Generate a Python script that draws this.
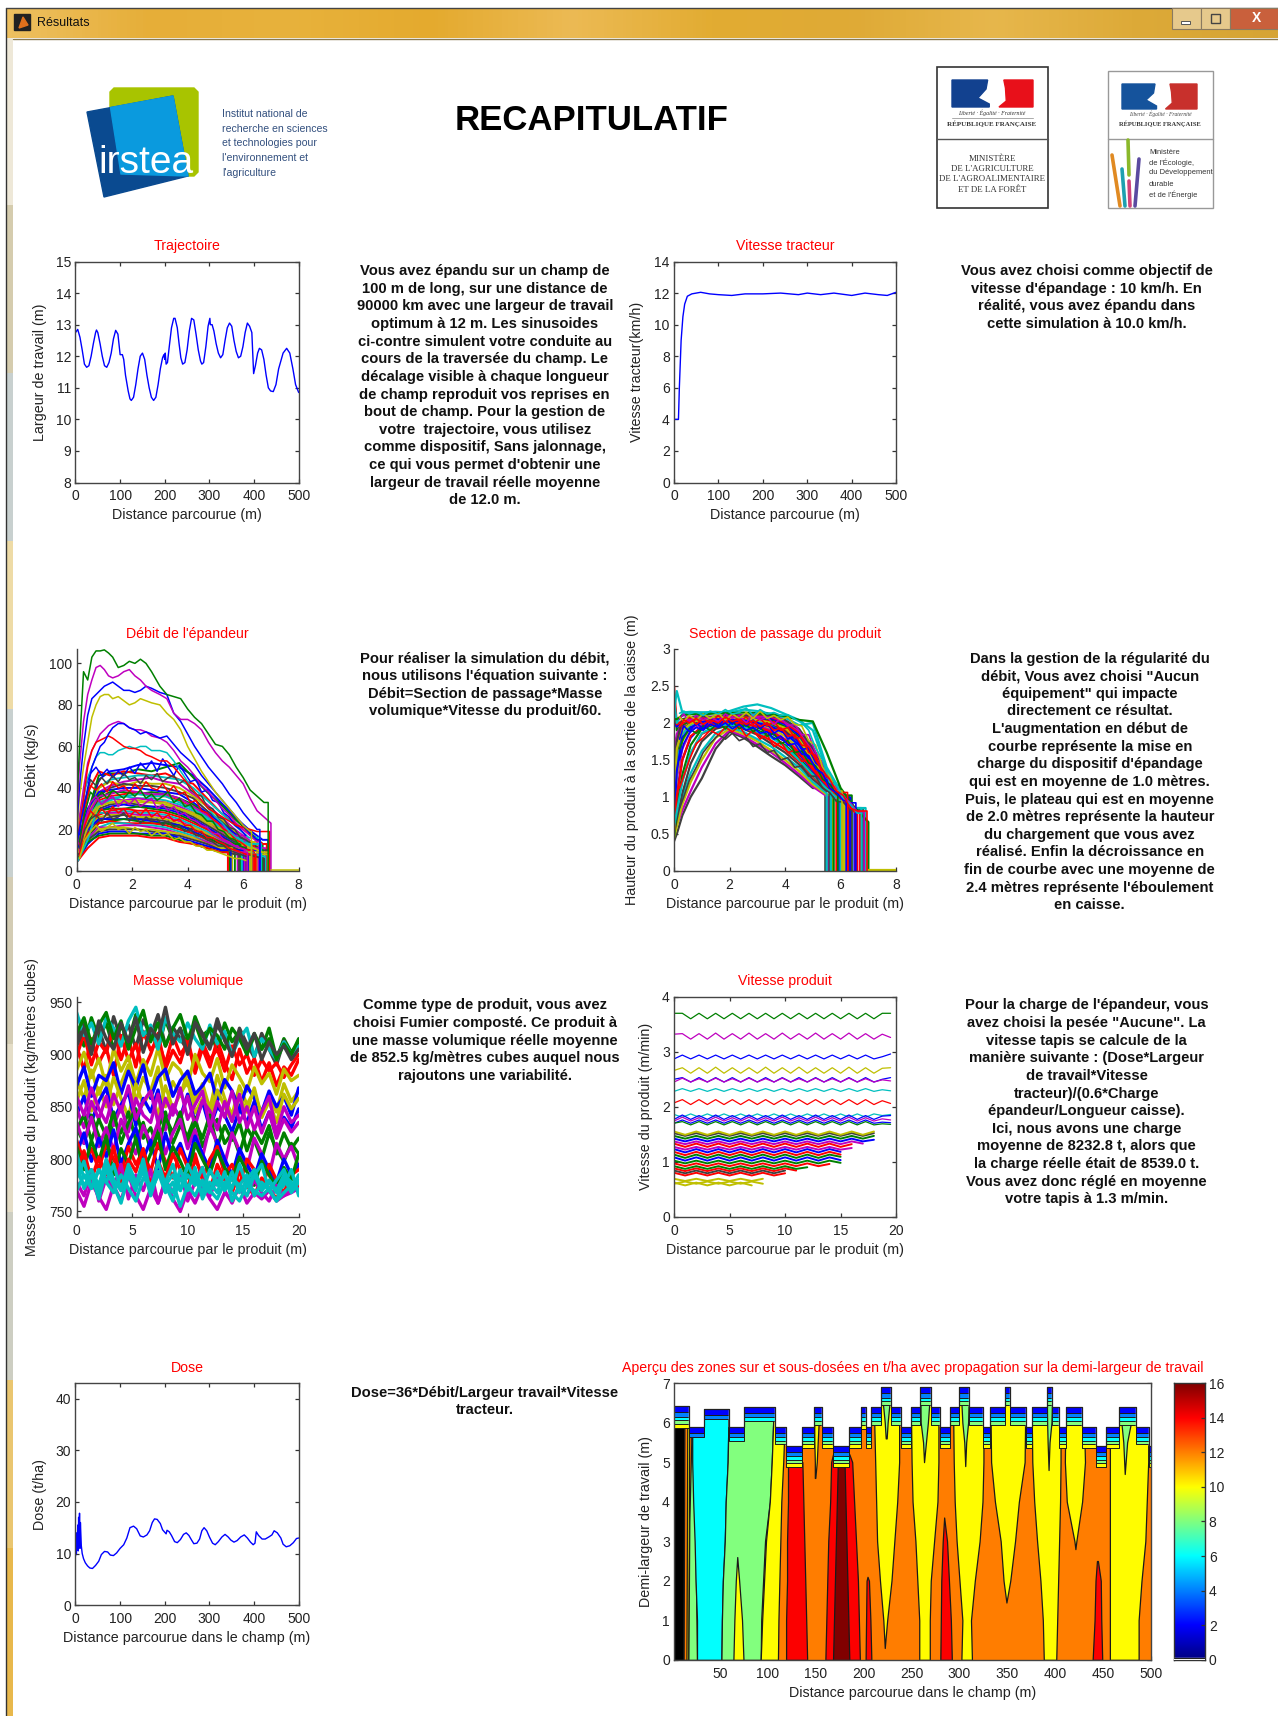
import numpy as np, pandas as pd, matplotlib
matplotlib.use('Agg')
import matplotlib.pyplot as plt, seaborn as sns
from matplotlib.colors import LinearSegmentedColormap
from matplotlib.patches import Polygon, Rectangle

sns.set_theme(style='white')
plt.rcParams['font.family'] = ['Liberation Sans', 'DejaVu Sans']

BLUE,GREEN,RED,CYAN,MAG,YEL,GRAY = '#0000ff','#008000','#ff0000','#00bfbf','#bf00bf','#bfbf00','#404040'
CYCLE = [BLUE,GREEN,RED,CYAN,MAG,YEL,GRAY]

traj_x = [0,5,10,15,20,25,30,35,40,45,47,50,55,60,65,70,75,80,85,90,95,100,105,108,112,118,122,125,130,135,140,145,150,155,160,165,170,175,180,185,190,195,198,200,201,203,206,210,215,220,223,228,232,236,240,245,250,255,260,265,270,275,280,283,287,292,297,301,302,306,310,315,320,325,330,335,340,345,350,355,360,365,370,375,380,385,390,395,399,403,408,412,417,422,427,432,437,443,449,455,465,473,480,487,493,500]
traj_y = [12.75,12.85,12.6,12.2,11.75,11.65,11.7,12.0,12.4,12.75,12.83,12.75,12.4,12.0,11.7,11.65,11.8,12.1,12.55,12.82,12.7,12.05,12.05,11.9,11.4,10.9,10.65,10.6,10.7,11.1,11.6,12.0,12.1,11.9,11.4,11.0,10.7,10.6,10.7,11.1,11.6,11.95,12.05,11.9,12.1,11.75,11.8,12.3,12.9,13.2,13.2,12.9,12.4,11.95,11.75,11.8,12.2,12.8,13.2,13.15,12.7,12.2,11.85,11.75,11.8,12.3,12.95,13.2,13.0,13.0,12.8,12.4,12.1,11.95,12.05,12.5,12.9,13.05,12.95,12.5,12.15,11.95,12.0,12.3,12.75,13.05,12.95,12.75,11.45,11.7,12.1,12.25,12.2,11.9,11.4,11.0,10.9,10.88,11.1,11.6,12.1,12.25,12.1,11.6,11.1,10.85]

trac_x = [0,10,12,16,20,24,30,40,60,80,100,130,160,200,240,280,300,330,360,400,430,460,480,500]
trac_y = [4,4,6,9,10.5,11.3,11.8,11.95,12.05,11.95,11.9,11.85,11.95,11.95,12,11.9,12,11.9,12,11.85,12,11.9,11.85,12.05]

dose_x = [0,1,2,3,4,5,6,7,8,9,10,11,13,15,18,22,27,32,38,45,52,58,65,72,78,85,92,100,108,115,122,130,137,145,152,160,166,172,177,183,190,195,203,205,210,215,222,228,235,242,248,254,260,265,272,278,283,288,294,300,307,313,320,328,335,342,348,355,362,370,378,385,392,398,402,405,410,418,425,433,440,445,452,460,465,472,480,488,495,500]
dose_y = [9.5,13,10,14,11,15.5,10.5,17,12,17.8,11,16,11.5,10,9,8.2,7.6,7.2,7.1,7.7,8.5,9.8,10.4,10.3,9.7,9.6,10.1,11,11.7,13,15,15.3,14.8,13.4,13.2,13.6,14.4,16,16.7,16.6,15.8,14.6,13.8,14.5,14.2,13.5,12.3,12.1,12.7,13.7,14,13.5,12.6,11.9,12,12.8,14.4,15,14.4,13.2,12,11.7,12.3,13.2,13.7,13.2,12.6,12.2,12.5,13.2,13.6,13,12.2,11.7,12,14.2,13.5,12.8,12.8,13.2,13.6,14.4,14,13,11.8,11.3,11.5,12.1,12.9,13]

debit_top_x = [0,.1,.25,.4,.55,.7,.85,1,1.15,1.3,1.5,1.7,1.9,2.1,2.3,2.5,2.7,3,3.25,3.5,3.75,4,4.25,4.5,4.75,5,5.25,5.5,5.75,6,6.25,6.5,6.75,7]
debit_top_rows = [
 [14,26,40,52,58,62,66,68,70,71,72,71,69,68,68,67,65,64,62,58,53,50,46,41,38,34,30,27,23,20,17,14,12,10],
 [12,22,35,45,50,55,57,57,56,56,58,59,60,59,60,60,58,58,57,53,48,43,38,34,30,26,23,19,16,14,12,10,9,8],
 [12,22,35,50,58,62,63,64,65,64,62,60,59,59,58,56,55,53,53,50,46,42,38,34,30,28,26,24,22,21,20,19,19,18],
 [12,20,30,40,50,55,60,62,66,69,71,71,69,68,66,67,66,64,65,61,57,54,51,46,42,38,34,30,26,22,18,15,12,10],
 [15,35,50,62,74,80,84,85,85,83,84,82,80,81,83,82,81,80,76,73,68,60,54,48,43,38,34,30,26,22,19,16,13,11],
 [20,40,60,75,83,85,87,89,90,91,89,87,87,86,87,89,88,86,85,76,72,66,60,55,50,46,42,37,33,28,24,20,17,14],
 [25,50,72,85,92,98,99,97,94,93,94,96,97,94,92,89,87,85,83,76,73,73,71,68,62,57,53,50,46,42,35,29,26,23],
 [30,58,96,92,103,106,106,106.5,105,103,98,99,101,100,102,100,96,89,85,84,83,78,74,71,66,61,60,56,50,45,39,36,33,29]]
debit_top_end = [6.6,6.3,6.95,6.6,6.3,6.6,7.0,6.9]
debit_top_col = [MAG,CYAN,RED,BLUE,YEL,BLUE,MAG,GREEN]

debit_x = [0.05,0.4,0.8,1.2,1.7,2.2,2.7,3.2,3.7,4.2,4.7,5.2,5.7,6.2,6.7]
debit_rows = [
 [10,25,44,48,49,51,52,51,50,46,40,33,26,20,15],
 [13,28,46,47,47,49,48,50,52,45,38,32,25,19,13],
 [24,38,48,46,48,47,46,47,44,42,35,28,23,18,13],
 [9,24,40,44,45,46,46,45,44,40,34,28,22,16,12],
 [7,20,38,41,43,44,45,43,42,37,32,26,20,15,11],
 [12,26,40,43,41,43,42,42,40,36,31,25,19,14,11],
 [8,22,36,40,42,41,41,40,38,35,29,24,18,14,10],
 [15,30,38,39,40,40,39,38,37,33,28,23,18,13,10],
 [10,23,35,38,38,37,38,37,35,32,27,22,17,13,10],
 [6,18,34,36,37,38,36,36,34,30,26,21,16,12,9],
 [11,25,33,35,36,35,35,34,32,29,25,20,15,12,9],
 [8,20,32,35,34,35,34,33,31,28,24,19,15,11,9],
 [14,25,32,33,34,33,33,32,30,27,23,18,14,11,8],
 [9,22,30,32,33,32,31,31,29,26,22,18,14,11,8],
 [7,19,29,31,32,31,31,30,28,25,21,17,13,10,8],
 [12,22,29,30,30,31,30,29,27,24,20,16,13,10,8],
 [8,20,27,29,30,29,29,28,26,23,20,16,12,10,7],
 [10,22,28,28,29,28,28,27,25,22,19,15,12,9,7],
 [6,17,25,28,28,27,27,26,24,21,18,15,12,9,7],
 [9,20,26,27,27,26,26,25,23,21,18,14,11,9,7],
 [7,18,24,26,27,25,25,24,22,20,17,14,11,8,6],
 [11,20,25,25,25,25,24,23,22,19,16,13,10,8,6],
 [6,16,23,24,25,24,23,23,21,18,16,13,10,8,6],
 [8,18,23,24,23,23,23,22,20,18,15,12,10,8,6],
 [5,15,21,23,23,22,22,21,19,17,14,12,9,7,6],
 [7,16,21,21,22,22,21,20,18,16,14,11,9,7,5],
 [5,14,20,21,21,20,20,19,18,16,13,11,9,7,5],
 [8,15,19,20,20,20,19,18,17,15,13,10,8,6,5],
 [5,13,18,19,19,18,18,18,16,14,12,10,8,6,5],
 [6,14,17,18,18,18,17,17,15,13,11,9,7,6,5],
 [5,11,16,17,17,17,16,16,14,13,11,9,7,5,4],
 [5,15,32,34,36,37,36,36,33,30,26,21,17,13,10],
 [13,27,36,37,39,38,37,37,35,31,27,22,17,13,10],
 [9,21,31,33,33,34,33,33,30,28,24,20,15,12,9]]
debit_end = [6.9,6.7,6.85,6.6,6.8,6.5,6.95,6.2,6.7,6.4,6.3,6.55,6.9,6.1,6.6,5.9,6.35,6.8,5.8,6.25,6.75,6.0,5.7,6.45,5.95,6.15,5.6,5.85,5.55,5.5,5.45,6.65,6.05,6.95]

debit_fine_x = [0.1,.3,.5,.7,.9,1.1,1.3,1.5,1.7,1.9,2.1,2.3,2.5,2.7,2.9,3.1,3.3,3.5,3.7,3.9,4.1,4.3,4.5,4.7,4.9,5.1,5.3,5.5,5.7,5.9,6.1]
debit_fine_rows = [
 [18,40,47,50,46,49,45,48,46,50,47,52,49,53,48,54,50,46,51,47,43,44,38,39,34,33,28,26,22,20,17],
 [12,32,44,41,45,42,46,43,47,44,45,42,46,44,47,43,45,46,42,44,39,37,36,31,30,26,25,21,20,16,15],
 [10,30,41,39,42,38,43,40,41,38,42,39,43,40,39,42,38,41,37,38,33,34,29,28,25,23,20,19,15,14,12],
 [14,28,38,35,38,35,39,37,35,38,36,39,35,37,34,36,38,33,35,31,32,28,27,24,24,20,19,16,15,12,11],
 [9,24,33,36,32,34,36,31,34,32,35,31,33,35,30,32,29,31,27,28,25,24,22,21,18,18,15,14,12,11,10],
 [7,22,29,26,30,27,31,28,30,26,29,27,30,26,28,25,27,24,25,22,22,19,19,16,16,14,13,11,10,9,8],
 [11,20,25,27,24,28,25,26,28,24,26,23,26,24,25,22,24,21,22,19,20,17,17,15,14,12,12,10,9,8,7],
 [6,15,19,22,19,21,23,20,21,18,21,19,20,17,19,17,18,15,16,14,14,12,12,10,10,9,8,7,6,6,5]]
debit_fine_col = [BLUE,GRAY,RED,GREEN,MAG,RED,GRAY,YEL]

section_x = [0,0.1,0.3,0.6,1,1.5,2,2.5,3,3.5,4,4.5,5,5.5,6,6.5,7]
section_rows = [
 [40,50,75,100,125,165,188,180,168,155,143,128,112,100,84,72,60],
 [55,62,82,108,140,172,190,182,171,160,146,131,114,101,86,73,60],
 [45,60,90,120,150,180,192,185,175,163,150,135,117,103,88,74,61],
 [60,72,100,132,162,186,194,188,178,168,154,140,120,105,89,75,61],
 [50,70,105,145,175,192,197,192,184,172,160,144,124,108,91,76,62],
 [70,90,122,158,185,194,200,194,186,176,164,148,128,110,93,77,62],
 [45,85,130,170,192,198,202,197,190,182,170,153,131,112,94,78,62],
 [65,105,150,180,196,200,204,200,194,186,175,158,135,115,96,79,63],
 [90,125,165,190,198,202,205,203,198,190,178,162,138,117,97,80,63],
 [50,130,175,195,200,204,208,205,200,193,182,166,141,119,98,80,64],
 [75,145,185,198,203,204,206,207,203,197,186,170,145,121,99,81,64],
 [120,160,192,200,202,206,209,206,205,199,189,174,148,123,100,81,64],
 [180,175,196,204,205,204,206,209,207,202,192,178,151,125,101,82,64],
 [235,190,198,202,206,208,207,207,209,204,195,181,154,127,102,82,65],
 [200,195,200,205,204,207,210,210,206,206,198,184,157,129,103,83,65],
 [250,198,203,203,207,206,209,208,210,208,200,187,160,131,104,83,65],
 [160,185,200,206,206,209,208,211,208,209,202,190,163,133,105,84,65],
 [130,175,205,208,209,208,212,209,212,210,204,192,166,135,106,84,65],
 [95,165,190,199,204,207,205,207,204,200,193,178,150,126,101,82,64],
 [70,135,180,194,201,205,204,203,200,195,186,170,144,122,99,81,64],
 [55,100,150,182,194,199,201,199,195,188,177,160,137,116,97,80,63],
 [60,80,120,160,186,196,198,194,188,180,168,150,130,111,94,78,62],
 [230,200,212,214,214,215,214,218,216,212,207,197,200,140,108,85,66],
 [215,243,214,215,214,213,216,222,225,220,212,204,190,137,107,85,65],
 [205,205,210,212,211,213,213,214,213,212,209,204,202,160,112,86,66]]
section_end = [5.45,5.55,5.7,5.5,5.6,5.85,5.75,5.95,6.05,6.15,5.65,6.3,6.25,6.4,6.5,6.6,6.7,6.8,6.1,6.35,6.55,6.0,6.75,6.9,7.0]
section_col = [GRAY,MAG,YEL,CYAN,GRAY,RED,GREEN,BLUE,MAG,YEL,CYAN,GRAY,RED,GREEN,BLUE,RED,MAG,GRAY,YEL,BLUE,RED,CYAN,CYAN,CYAN,GREEN]

section_fine_x = [0.2,.35,.55,.8,1.05,1.3,1.6,1.85,2.1,2.35,2.6,2.85,3.1,3.35,3.6,3.85,4.1,4.35,4.6,4.85,5.1,5.35,5.6,5.85,6.1,6.35,6.6]
section_fine_rows = [
 [85,100,122,140,160,172,184,178,186,176,180,168,172,160,163,150,153,140,142,128,128,112,106,94,93,82,78],
 [112,128,150,172,180,190,184,194,188,196,182,190,178,184,168,174,160,163,148,150,135,128,114,104,97,86,80],
 [165,180,192,186,196,190,200,192,202,192,198,188,194,182,186,172,176,160,162,146,142,124,118,104,101,88,80],
 [178,196,188,200,192,204,196,206,198,208,196,204,192,200,186,192,178,182,164,166,146,138,120,110,100,92,78],
 [196,200,208,198,206,200,210,200,212,202,208,198,206,196,202,190,194,180,180,160,156,130,126,106,106,88,84],
 [205,212,202,210,204,208,202,212,206,210,200,212,204,208,198,206,196,198,184,184,160,146,122,112,100,92,80],
 [208,202,210,204,212,206,213,204,212,206,214,206,216,206,210,204,208,198,196,176,170,140,128,108,104,86,82],
 [213,216,212,215,210,216,212,218,212,214,220,210,218,212,214,210,211,205,200,190,166,150,120,116,98,90,78],
 [150,172,186,194,190,198,194,200,192,198,190,194,186,188,178,182,170,172,158,156,138,132,112,106,95,88,76],
 [195,204,200,206,198,204,200,208,202,205,198,203,195,200,190,193,182,184,170,168,150,136,124,108,102,85,81]]
section_fine_end = [6.4,6.7,5.9,6.55,6.25,6.85,6.05,6.75,6.2,6.95]
section_fine_col = [GRAY,RED,GREEN,BLUE,RED,MAG,YEL,CYAN,BLUE,RED]

masse_x = [i * 2 / 3 for i in range(31)]
masse_rows = [
 [925,908,935,915,930,905,928,912,938,917,926,904,933,914,925,908,936,918,924,903,930,912,922,900,918,905,925,896,915,902,912],
 [912,930,905,925,902,936,914,928,906,933,918,938,908,926,915,904,931,920,907,934,913,900,925,910,897,920,905,890,913,899,908],
 [898,920,890,912,902,925,895,916,888,922,904,914,891,918,900,910,887,912,895,905,884,908,890,900,880,895,884,892,878,890,900],
 [908,885,915,892,906,880,918,894,910,884,900,920,886,904,892,916,882,906,888,914,892,876,905,882,896,874,892,870,888,880,895],
 [885,902,878,896,870,905,884,898,872,895,880,906,876,892,885,870,900,882,874,896,868,890,878,865,888,872,882,862,886,875,880],
 [875,858,885,862,880,852,872,890,855,878,865,888,850,874,860,884,855,872,848,880,858,842,870,852,865,840,860,845,872,855,865],
 [870,888,860,880,875,892,862,884,868,890,858,878,886,860,875,884,862,870,882,855,876,865,848,870,858,845,865,850,860,842,868],
 [855,875,846,868,850,878,858,840,872,852,865,842,870,848,862,875,844,858,838,866,850,836,860,845,868,840,855,835,862,848,858],
 [842,860,835,855,868,838,852,864,832,858,845,866,830,850,840,862,835,855,830,850,842,826,848,835,855,828,845,822,840,830,848],
 [830,815,842,822,810,838,825,845,818,835,808,830,845,815,832,822,840,812,828,838,815,825,805,830,818,800,825,810,798,815,805],
 [848,830,855,838,860,832,850,826,858,842,835,862,828,852,838,860,832,856,846,828,855,836,862,830,850,825,845,820,838,826,835],
 [828,842,818,838,822,845,815,835,848,820,830,810,840,825,845,815,835,820,842,812,832,818,835,808,828,815,832,805,825,810,820],
 [835,815,840,812,830,808,838,820,805,832,815,835,805,825,838,810,828,802,832,815,795,825,808,790,820,805,785,815,800,812,792],
 [805,825,798,820,802,828,795,815,830,800,818,790,825,802,815,795,822,805,790,818,800,785,810,795,782,805,790,778,800,785,795],
 [818,798,810,790,815,800,785,812,795,808,788,815,798,782,810,792,805,780,800,812,785,795,775,800,790,770,795,780,768,785,790],
 [812,790,818,798,822,785,810,795,820,788,805,825,790,812,798,782,815,800,786,808,792,780,802,788,775,798,785,772,792,780,805],
 [790,808,780,802,785,812,778,800,788,810,775,798,782,805,790,772,800,785,770,795,780,768,788,775,765,782,772,762,778,770,775],
 [778,765,790,760,782,772,795,762,785,770,790,758,780,768,788,760,778,792,765,782,770,758,775,765,780,768,760,775,765,772,780],
 [770,755,778,764,752,775,760,785,765,752,772,758,780,762,750,770,758,775,762,752,768,760,775,758,768,762,770,760,765,768,772],
 [795,772,785,762,790,775,758,785,770,795,765,788,775,760,782,770,792,762,778,768,788,760,775,785,765,778,770,760,782,768,778],
 [805,782,790,775,800,780,770,795,778,788,768,798,775,785,770,795,780,768,790,775,785,772,795,775,785,795,770,780,790,772,785],
 [782,798,772,790,778,795,770,788,775,800,768,785,778,795,770,785,775,792,770,780,772,788,768,780,790,772,780,770,785,778,770],
 [790,775,785,770,795,780,772,790,775,788,770,785,778,768,790,772,785,775,768,788,770,782,775,765,785,770,778,768,775,790,765],
 [940,918,930,910,935,925,908,932,945,918,928,905,935,920,912,930,915,905,928,910,922,900,915,925,898,915,905,895,912,900,908],
 [920,935,910,928,940,915,932,905,925,942,912,930,908,925,938,915,930,910,925,918,905,925,915,900,920,905,915,895,910,900,915],
 [908,925,900,932,915,905,930,912,935,902,925,915,945,910,925,900,930,918,905,928,915,898,922,905,920,895,912,900,908,895,905],
 [770,785,772,790,778,768,785,772,760,782,775,788,768,778,755,775,765,780,770,762,778,768,760,775,770,765,772,760,768,775,780],
 [860,842,868,848,835,862,845,870,838,855,865,835,858,842,868,838,852,865,830,855,840,865,835,850,828,845,860,825,850,835,842]]
masse_col = [GREEN,GRAY,RED,RED,YEL,YEL,BLUE,YEL,BLUE,GREEN,MAG,GREEN,MAG,BLUE,RED,GREEN,RED,MAG,MAG,CYAN,CYAN,CYAN,CYAN,CYAN,GREEN,GRAY,CYAN,MAG]

vit_hi_x = [i * 0.75 for i in range(27)]
vit_hi_rows = [
 [370,370,360,370,360,370,360,370,360,370,360,370,360,370,360,370,360,370,360,370,360,370,360,370,360,370,370],
 [332,333,323,333,323,334,323,333,323,334,323,333,323,334,323,333,323,334,323,333,323,334,323,333,323,332,326],
 [287,294,287,294,287,294,287,294,287,294,287,294,287,294,287,294,287,294,287,294,287,294,287,294,287,291,296],
 [266,271,261,271,261,272,261,271,261,271,261,272,261,271,261,272,261,271,261,271,261,272,261,271,261,270,271],
 [250,253,245,253,245,253,245,253,245,253,245,253,245,253,245,253,245,253,245,253,245,253,245,253,245,250,253],
 [245,252,245,251,245,252,245,251,245,252,245,251,245,252,245,251,245,252,245,251,245,252,245,251,245,249,247],
 [228,233,228,233,228,233,228,233,228,233,228,233,228,233,228,233,228,233,228,233,228,233,228,233,228,231,229],
 [207,213,204,213,204,213,204,213,204,213,204,213,204,213,204,213,204,213,204,213,204,213,204,213,204,211,206],
 [186,181,187,181,187,181,187,181,187,181,187,181,187,181,187,181,187,181,187,181,187,181,187,181,187,184,186],
 [177,185,177,184,177,185,177,184,177,185,177,184,177,185,177,184,177,185,177,184,177,185,177,184,177,183,184],
 [174,181,174,180,174,181,174,180,174,181,174,180,174,181,174,180,174,181,174,180,174,181,174,180,174,178,176],
 [170,176,170,176,170,176,170,176,170,176,170,176,170,176,170,176,170,176,170,176,170,176,170,176,170,172,171],
 [170,173,167,173,167,173,167,173,167,173,167,173,167,173,167,173,167,173,167,173,167,173,167,173,167,169,168]]
vit_hi_col = [GREEN,MAG,BLUE,YEL,BLUE,MAG,CYAN,RED,CYAN,BLUE,MAG,BLUE,GREEN]

vit_lo_rows = [
 [62,57,62,57,62,57,62,57],
 [60,64,60,64,60,64,60,64,60],
 [69,65,69,65,69,65,69,65,69],
 [80,75,80,75,80,75,80,75,80,75,79],
 [84,79,84,79,84,79,84,79,84,79,84],
 [88,83,88,83,88,83,88,83,88,83,88,84],
 [92,87,92,87,92,87,92,87,92,87,92,87,90],
 [97,92,97,92,97,92,97,92,97,92,97,92,97,92,96],
 [102,97,102,97,102,97,102,97,102,97,102,97,102,97,102,98],
 [108,102,108,102,108,102,108,102,108,102,108,102,108,102,108,103],
 [113,107,113,107,113,107,113,107,113,107,113,107,113,107,113,109],
 [118,112,118,112,118,112,118,112,118,112,118,112,118,112,118,113],
 [123,117,123,117,123,117,123,117,123,117,123,117,123,117,123,118],
 [127,122,127,122,127,122,127,122,127,122,127,122,127,122,127,122,125],
 [133,127,133,127,133,127,133,127,133,127,133,127,133,127,133,127,132],
 [137,132,137,132,137,132,137,132,137,132,137,132,137,132,137,132,137,133],
 [142,137,142,137,142,137,142,137,142,137,142,137,142,137,142,137,142,137,140],
 [147,142,147,142,147,142,147,142,147,142,147,142,147,142,147,142,147,142,147],
 [152,147,152,147,152,147,152,147,152,147,152,147,152,147,152,147,152,147,152],
 [155,149,155,149,155,149,155,149,155,149,155,149,155,149,155,149,155,149,155]]
vit_lo_col = [YEL,YEL,YEL,RED,GRAY,RED,GREEN,RED,GREEN,BLUE,GREEN,RED,BLUE,MAG,RED,MAG,BLUE,GREEN,GRAY,YEL]

top_edges = [2,18,33,59,75,107,119,136,148,156,168,185,197,202,208,218,229,239,249,259,270,280,290,300,310,325,332,347,353,369,376,391,397,404,411,428,442,453,467,484,498,500]
top_heights = [6.42,5.9,6.35,5.9,6.4,5.9,5.42,5.9,6.4,5.9,5.42,5.9,6.4,5.9,6.4,6.9,6.4,5.9,6.4,6.9,6.4,5.9,6.4,6.9,6.4,5.9,6.4,6.9,6.4,5.9,6.4,6.9,6.4,5.9,6.4,5.9,5.42,5.9,6.4,5.9,5.42]
top_base = [12,6,6,8,8,10,12,12,10,12,12,12,12,12,10,10,10,12,10,10,10,12,10,10,10,12,10,10,10,12,10,10,10,12,10,12,12,12,10,10,12]
stack_depth = [0.55,0.45,0.36,0.27,0.16]
stack_vals = [10,8,6,4,2]

Y6 = [0,1,2,3,4,5,7]
regions = [
 (-1,[0,7],[2,2],[12,13]),
 (12,[0,7],[12,13],[16,17]),
 (10,[0,7],[15,16],[17,18]),
 (8,[0,3.5,5.5,7],[17,18,20,20],[26,24,21,21]),
 (6,[0,1,2,3,4,5,7],[26,26,24.5,23.5,22,21,21],[51.5,52,53,55,56,58,59.5]),
 (8,[0,1,2,3,4,5,7],[51.5,52,53,55,56,58,59.5],[92.5,93,95,97,102,104,107]),
 (10,[0,1,2,2.6],[64,65,66.5,68],[74.5,73,70,68]),
 (10,[0,1,2,3,4,5,7],[92.5,94,96,98,102,104,107],[110.5,111,112,113,114,116,119]),
 (14,[0,1,2,3,4,5],[119,119,120,120,121,121],[141,140,139,138,137,136]),
 (10,[4.6,5,5.5,7],[149,149,148.5,148],[149.5,151,152,155]),
 (14,[0,1,2,3,4,5,5.2],[160,161,162,163,165,166,168],[196,195,194,192,190,188,185]),
 (16,[0,1,2,3,4,5],[168,169,170,171,172,173],[185,184,183,182,181,180]),
 (14,[0,1,2,2.1],[202,202.5,203,204],[208,207,205.5,204]),
 (10,[0.3,1,2,3,4,5,7],[222,220.5,217,214,213,212,210],[222,224.5,229,232,235,237,237]),
 (10,Y6,[258,258,256,254,251,250,249],[269,269,270,273.5,277,278,278]),
 (14,[0,1,2,3,3.6],[280,280.5,281,282.5,284],[292,291,289,287,284]),
 (10,Y6,[302,303,300,297,295,294,293],[313,312,316,321,324,325,325]),
 (10,[1.45,2,3,4,5,7],[349,346,343,337,333,332],[349,353,358,362,368,369]),
 (10,Y6,[388,387,384.5,381,378,376,375],[401,402,403,404,405,405.5,405.5]),
 (10,[2.8,3,4,5,7],[421,420,412,410,411],[421,422,428,431,429]),
 (14,[0,1,2,2.5],[439,441,442,443.5],[449,448,447.5,444.5]),
 (10,Y6,[457,457,457,457,457,457,457],[487,487,490,494,495.5,497,497]),
 (8,[5.6,6,7],[223,222,218],[224,225,229]),
 (8,[5,5.5,6,7],[263,262,259.5,259],[263,265,267,270]),
 (8,[4.9,5.5,6,7],[306,305,303,301],[306,307,309,310]),
 (8,[4.8,5.5,6,7],[393,392,391.5,391],[393,394,396,397]),
 (8,[4.7,5.5,6,7],[472.5,471,469,468],[472.5,475,479,483])]

titles = ['Trajectoire','Vitesse tracteur',"Débit de l'épandeur",'Section de passage du produit','Masse volumique','Vitesse produit','Dose','Aperçu des zones sur et sous-dosées en t/ha avec propagation sur la demi-largeur de travail']

block1 = ["Vous avez épandu sur un champ de","100 m de long, sur une distance de","90000 km avec une largeur de travail","optimum à 12 m. Les sinusoides","ci-contre simulent votre conduite au","cours de la traversée du champ. Le","décalage visible à chaque longueur","de champ reproduit vos reprises en","bout de champ. Pour la gestion de","votre  trajectoire, vous utilisez","comme dispositif, Sans jalonnage,","ce qui vous permet d'obtenir une","largeur de travail réelle moyenne","de 12.0 m."]
block2 = ["Vous avez choisi comme objectif de","vitesse d'épandage : 10 km/h. En","réalité, vous avez épandu dans","cette simulation à 10.0 km/h."]
block3 = ["Pour réaliser la simulation du débit,","nous utilisons l'équation suivante :","Débit=Section de passage*Masse","volumique*Vitesse du produit/60."]
block4 = ["Dans la gestion de la régularité du","débit, Vous avez choisi \"Aucun","équipement\" qui impacte","directement ce résultat.","L'augmentation en début de","courbe représente la mise en","charge du dispositif d'épandage","qui est en moyenne de 1.0 mètres.","Puis, le plateau qui est en moyenne","de 2.0 mètres représente la hauteur","du chargement que vous avez","réalisé. Enfin la décroissance en","fin de courbe avec une moyenne de","2.4 mètres représente l'éboulement","en caisse."]
block5 = ["Comme type de produit, vous avez","choisi Fumier composté. Ce produit à","une masse volumique réelle moyenne","de 852.5 kg/mètres cubes auquel nous","rajoutons une variabilité."]
block6 = ["Pour la charge de l'épandeur, vous","avez choisi la pesée \"Aucune\". La","vitesse tapis se calcule de la","manière suivante : (Dose*Largeur","de travail*Vitesse","tracteur)/(0.6*Charge","épandeur/Longueur caisse).","Ici, nous avons une charge","moyenne de 8232.8 t, alors que","la charge réelle était de 8539.0 t.","Vous avez donc réglé en moyenne","votre tapis à 1.3 m/min."]
block7 = ["Dose=36*Débit/Largeur travail*Vitesse","tracteur."]

W, H = 1278, 1716
S = 1278 / 1168
fig = plt.figure(figsize=(W / 100, H / 100), dpi=100, facecolor='white')

# window chrome and logos, in pixel coordinates of the screenshot
bg = fig.add_axes([0, 0, 1, 1], zorder=0)
bg.set_xlim(0, W); bg.set_ylim(H, 0); bg.axis('off')
bar = LinearSegmentedColormap.from_list('bar', ['#eec060','#e6ae38','#e8b23c','#e4aa2e','#ecba54','#e2ac32','#dfaa36','#e7b74c','#ddaa38','#d6a434'])
bg.imshow(np.linspace(0, 1, 400)[None, :], cmap=bar, extent=(6, W, 38, 8), aspect='auto', zorder=1)
bg.imshow(np.array([[0,0.25,0.5,0.75,0.5,0.3,0.1,0.4,0.9,1.0]]).T, cmap=LinearSegmentedColormap.from_list('side',['#eee8d8','#d6ccae','#c8d0d0','#efdca8','#e8b84c']), extent=(7, 13, H, 38), aspect='auto', zorder=1)
bg.plot([6, 6], [8, H], color='#333333', lw=1, zorder=2)
bg.plot([6, W], [8, 8], color='#444444', lw=1, zorder=2)
bg.plot([13, W], [38.5, 38.5], color='#8a7a50', lw=1, zorder=2)
bg.set_xlim(0, W); bg.set_ylim(H, 0)
bg.add_patch(Rectangle((14, 14), 16, 16, color='#222222', zorder=3))
bg.add_patch(Polygon([(19, 28), (23, 17), (28, 25)], color='#e0701c', zorder=4))
bg.text(37, 23, 'Résultats', fontsize=9, va='center', color='#111111', zorder=3)
bg.add_patch(Rectangle((1172, 8), 29, 21, fc='#e6c98c', ec='#8a7a60', lw=0.8, zorder=3))
bg.add_patch(Rectangle((1201, 8), 29, 21, fc='#e6c98c', ec='#8a7a60', lw=0.8, zorder=3))
bg.add_patch(Rectangle((1230, 8), 48, 21, fc='#c9603c', ec='#8a7a60', lw=0.8, zorder=3))
bg.add_patch(Rectangle((1181, 21), 9, 3, fc='white', ec='#555', lw=0.7, zorder=4))
bg.add_patch(Rectangle((1211, 14), 9, 9, fc='none', ec='#444', lw=1, zorder=4))
bg.text(1257, 18, 'X', fontsize=10, color='white', weight='bold', ha='center', va='center', zorder=4)

bg.add_patch(Polygon([(110, 92), (114, 88), (194, 88), (198, 92), (198, 172), (194, 176), (110, 176)], color='#a8c400', zorder=3))
bg.add_patch(Polygon([(87, 112), (173, 96), (188, 176), (104, 197)], color='#0a4a90', zorder=4))
bg.add_patch(Polygon([(110.5, 107.5), (173, 96), (188, 176), (121, 174)], color='#0a9ade', zorder=5))
bg.text(98, 163, 'irstea', color='white', fontsize=28, va='center', zorder=6)
for t, yy in zip(['Institut national de','recherche en sciences','et technologies pour',"l'environnement et","l'agriculture"], [114, 129, 143.5, 158, 173]):
    bg.text(222, yy, t, fontsize=7.6, color='#33507f', va='center', zorder=3)
bg.text(592, 120, 'RECAPITULATIF', fontsize=25, weight='bold', color='black', ha='center', va='center', zorder=3)

def flag(x0, x1, y0, y1, blue, red):
    w = x1 - x0
    bg.add_patch(Polygon([(x0, y0), (x0 + .44 * w, y0), (x0 + .42 * w, y0 + 9), (x0 + .32 * w, y1 - 9), (x0 + .46 * w, y1 - 3), (x0 + .46 * w, y1), (x0, y1)], color=blue, zorder=3))
    bg.add_patch(Polygon([(x0 + .64 * w, y0), (x1, y0), (x1, y1), (x0 + .58 * w, y1), (x0 + .67 * w, y1 - 6), (x0 + .66 * w, y0 + 8)], color=red, zorder=3))

bg.add_patch(Rectangle((937, 67), 111, 141, fc='white', ec='#333333', lw=1.2, zorder=2))
bg.plot([937, 1048], [139, 139], color='#555555', lw=1, zorder=3)
flag(952, 1033, 80, 107, '#12418f', '#e8101a')
bg.text(992, 113, 'Liberté · Égalité · Fraternité', fontsize=4.2, style='italic', family='Liberation Serif', ha='center', va='center', color='#333', zorder=3)
bg.plot([952, 1033], [118, 118], color='#aaaaaa', lw=0.7, zorder=3)
bg.text(992, 124, 'RÉPUBLIQUE FRANÇAISE', fontsize=5, family='Liberation Serif', weight='bold', ha='center', va='center', color='#333', zorder=3)
for t, yy in zip(['MINISTÈRE',"DE L'AGRICULTURE","DE L'AGROALIMENTAIRE",'ET DE LA FORÊT'], [159, 169, 179, 190]):
    bg.text(992, yy, t, fontsize=6.4, family='Liberation Serif', ha='center', va='center', color='#333', zorder=3)
bg.add_patch(Rectangle((1108, 71), 105, 137, fc='white', ec='#999999', lw=1, zorder=2))
bg.plot([1108, 1213], [139, 139], color='#999999', lw=1, zorder=3)
flag(1122, 1197, 84, 109, '#15539c', '#c8302c')
bg.text(1160, 114, 'Liberté · Égalité · Fraternité', fontsize=4, style='italic', family='Liberation Serif', ha='center', va='center', color='#444', zorder=3)
bg.text(1160, 124, 'RÉPUBLIQUE FRANÇAISE', fontsize=4.7, family='Liberation Serif', weight='bold', ha='center', va='center', color='#333', zorder=3)
for (x0, y0, x1, y1, c) in [(1112, 155, 1120, 206, '#e08a22'), (1122, 169, 1125, 206, '#1ea0b0'), (1128, 140, 1129, 175, '#8ab82a'), (1129, 181, 1130, 206, '#d0427a'), (1139, 159, 1135, 206, '#5a4aa0')]:
    bg.plot([x0, x1], [y0, y1], color=c, lw=2.6, solid_capstyle='round', zorder=3)
for t, yy in zip(['Ministère',"de l'Écologie,",'du Développement','durable',"et de l'Énergie"], [152, 163, 173, 184, 195]):
    bg.text(1149, yy, t, fontsize=5.4, ha='left', va='center', color='#333', zorder=3)

def block(lines, cx, y0):
    for i, t in enumerate(lines):
        bg.text(cx * S, (y0 + i * 16.1) * S + 1, t, fontsize=10.6, weight='bold', color='#111111', ha='center', va='center', zorder=3)
block(block1, 443, 247); block(block2, 993, 247); block(block3, 443, 601); block(block4, 996, 601)
block(block5, 443, 918); block(block6, 993, 918); block(block7, 443, 1272)

def panel(L, T, R, B, title, xlabel, ylabel, ylx, xlim, ylim, xt, yt, box=True, xlab_off=29):
    ax = fig.add_axes([L * S / W, 1 - B * S / H, (R - L) * S / W, (B - T) * S / H], zorder=2)
    ax.set_facecolor('white')
    ax.set_xlim(xlim); ax.set_ylim(ylim)
    ax.set_xticks(xt); ax.set_yticks(yt)
    ax.set_xticklabels(['%g' % v for v in xt]); ax.set_yticklabels(['%g' % v for v in yt])
    ax.tick_params(direction='in', length=3, width=0.9, color='#333333', labelsize=10, labelcolor='#222222', top=box, right=box, bottom=True, left=True)
    ax.tick_params(axis='x', pad=5)
    ax.tick_params(axis='y', pad=3)
    for s in ax.spines.values():
        s.set_color('#444444'); s.set_linewidth(1); s.set_visible(True)
    if not box:
        sns.despine(ax=ax)
    ax.text(0.5, 1 + 14 / (B - T), title, color='#ff0000', fontsize=10.2, ha='center', va='center', transform=ax.transAxes)
    ax.text(0.5, -(xlab_off + 1) / (B - T), xlabel, color='#222222', fontsize=10.3, ha='center', va='center', transform=ax.transAxes)
    ax.text((ylx - L) / (R - L), 0.5, ylabel, color='#222222', fontsize=10.3, rotation=90, ha='center', va='center', transform=ax.transAxes)
    return ax

def spaghetti(ax, frames, colours, lw):
    df = pd.concat([pd.DataFrame({'x': x, 'y': y, 's': i}) for i, (x, y) in enumerate(frames)])
    pal = {i: c for i, c in enumerate(colours)}
    sns.lineplot(data=df, x='x', y='y', hue='s', units='s', estimator=None, sort=False, palette=pal, legend=False, lw=lw, ax=ax, clip_on=True)
    ax.set_xlabel(''); ax.set_ylabel('')

def ended(xs, ys, end):
    keep = [(a, b) for a, b in zip(xs, ys) if a <= end]
    xx = [k[0] for k in keep]; yy = [k[1] for k in keep]
    return xx + [end, end], yy + [yy[-1], 0]

DIST = 'Distance parcourue (m)'; PROD = 'Distance parcourue par le produit (m)'; CHAMP = 'Distance parcourue dans le champ (m)'
a = panel(69, 239, 273, 441, titles[0], DIST, 'Largeur de travail (m)', 37, (0, 500), (8, 15), list(range(0, 501, 100)), list(range(8, 16)))
sns.lineplot(x=traj_x, y=traj_y, color=BLUE, lw=1, sort=False, estimator=None, ax=a)
a = panel(616, 239, 819, 441, titles[1], DIST, 'Vitesse tracteur(km/h)', 582, (0, 500), (0, 14), list(range(0, 501, 100)), list(range(0, 15, 2)))
sns.lineplot(x=trac_x, y=trac_y, color=BLUE, lw=1, sort=False, estimator=None, ax=a)

# flow rate
a = panel(70, 593, 273, 796, titles[2], PROD, 'Débit (kg/s)', 29, (0, 8), (0, 107), list(range(0, 9, 2)), list(range(0, 101, 20)), box=False)
frames, cols = [], []
for i, (r, e) in enumerate(zip(debit_rows, debit_end)):
    frames.append(ended(debit_x, r, e)); cols.append(CYCLE[i % 7])
spaghetti(a, frames, cols, 1.4)
spaghetti(a, [(debit_fine_x, r) for r in debit_fine_rows], debit_fine_col, 1.1)
frames = [ended(debit_top_x, r, e) for r, e in zip(debit_top_rows, debit_top_end)]
spaghetti(a, frames + [([7, 8], [0.4, 0.4])], debit_top_col + [YEL], 1.1)

# section
a = panel(616, 593, 819, 796, titles[3], PROD, 'Hauteur du produit à la sortie de la caisse (m)', 578, (0, 8), (0, 3), list(range(0, 9, 2)), [0, .5, 1, 1.5, 2, 2.5, 3], box=False)
frames = [ended(section_x, [v / 100 for v in r], e) for r, e in zip(section_rows, section_end)]
spaghetti(a, frames + [([7, 8], [0.01, 0.01])], section_col + [YEL], 1.6)
frames = [ended(section_fine_x, [v / 100 for v in r], e) for r, e in zip(section_fine_rows, section_fine_end)]
spaghetti(a, frames, section_fine_col, 1.2)

# density
a = panel(70, 911, 273, 1112, titles[4], PROD, 'Masse volumique du produit (kg/mètres cubes)', 29, (0, 20), (745, 955), [0, 5, 10, 15, 20], [750, 800, 850, 900, 950], box=False)
spaghetti(a, [(masse_x, r) for r in masse_rows], masse_col, 2.4)

# product speed
a = panel(616, 911, 819, 1112, titles[5], PROD, 'Vitesse du produit (m/min)', 590, (0, 20), (0, 4), [0, 5, 10, 15, 20], [0, 1, 2, 3, 4])
spaghetti(a, [(vit_hi_x, [v / 100 for v in r]) for r in vit_hi_rows], vit_hi_col, 0.9)
spaghetti(a, [(list(range(len(r))), [v / 100 for v in r]) for r in vit_lo_rows], vit_lo_col, 1.4)

# dose
a = panel(69, 1264, 273, 1467, titles[6], CHAMP, 'Dose (t/ha)', 37, (0, 500), (0, 43), list(range(0, 501, 100)), [0, 10, 20, 30, 40])
sns.lineplot(x=dose_x, y=dose_y, color=BLUE, lw=1, sort=False, estimator=None, ax=a)

# dose map
jet = LinearSegmentedColormap.from_list('mjet', [(0, '#000080'), (.125, '#0000ff'), (.375, '#00ffff'), (.625, '#ffff00'), (.875, '#ff0000'), (1, '#800000')])
def band(v):
    return '#000000' if v < 0 else jet(v / 16)
a = panel(616, 1264, 1052, 1517, titles[7], CHAMP, 'Demi-largeur de travail (m)', 590, (2, 500), (0, 7), list(range(50, 501, 50)), list(range(0, 8)))
a.fill_betweenx([0, 7], [2, 2], [500, 500], color=band(12), lw=0)
for val, ys, left, right in regions:
    a.fill_betweenx(ys, left, right, facecolor=band(val), edgecolor='#1a1a1a', lw=0.9)
for i, t in enumerate(top_heights):
    x0, x1 = top_edges[i], top_edges[i + 1]
    for depth, val in zip(stack_depth, stack_vals):
        if val < top_base[i]:
            a.fill_between([x0, x1], t - depth, t, facecolor=band(val), edgecolor='#1a1a1a', lw=0.7)
    a.fill_between([x0, x1], t, 7, facecolor='white', edgecolor='white', lw=0.3)
a.step(top_edges[:-1] + [500], top_heights + [top_heights[-1]], where='post', color='#222222', lw=0.9)

# colour scale
c = fig.add_axes([1073 * S / W, 1 - 1517 * S / H, 28 * S / W, 253 * S / H], zorder=2)
c.imshow(np.linspace(1, 0, 256)[:, None], cmap=jet, extent=(0, 1, 0, 16), aspect='auto')
c.add_patch(Rectangle((0, 0), 1, 0.1, color='white', zorder=3))
c.plot([0, 1], [0.1, 0.1], color='#222222', lw=0.8, zorder=4)
c.set_xticks([]); c.yaxis.tick_right()
c.set_yticks(list(range(0, 17, 2)))
c.tick_params(direction='in', length=3, width=0.9, color='#333333', labelsize=10, labelcolor='#222222', pad=3)
for s in c.spines.values():
    s.set_color('#333333'); s.set_linewidth(1)

fig.savefig('out.png', dpi=100, facecolor='white')
